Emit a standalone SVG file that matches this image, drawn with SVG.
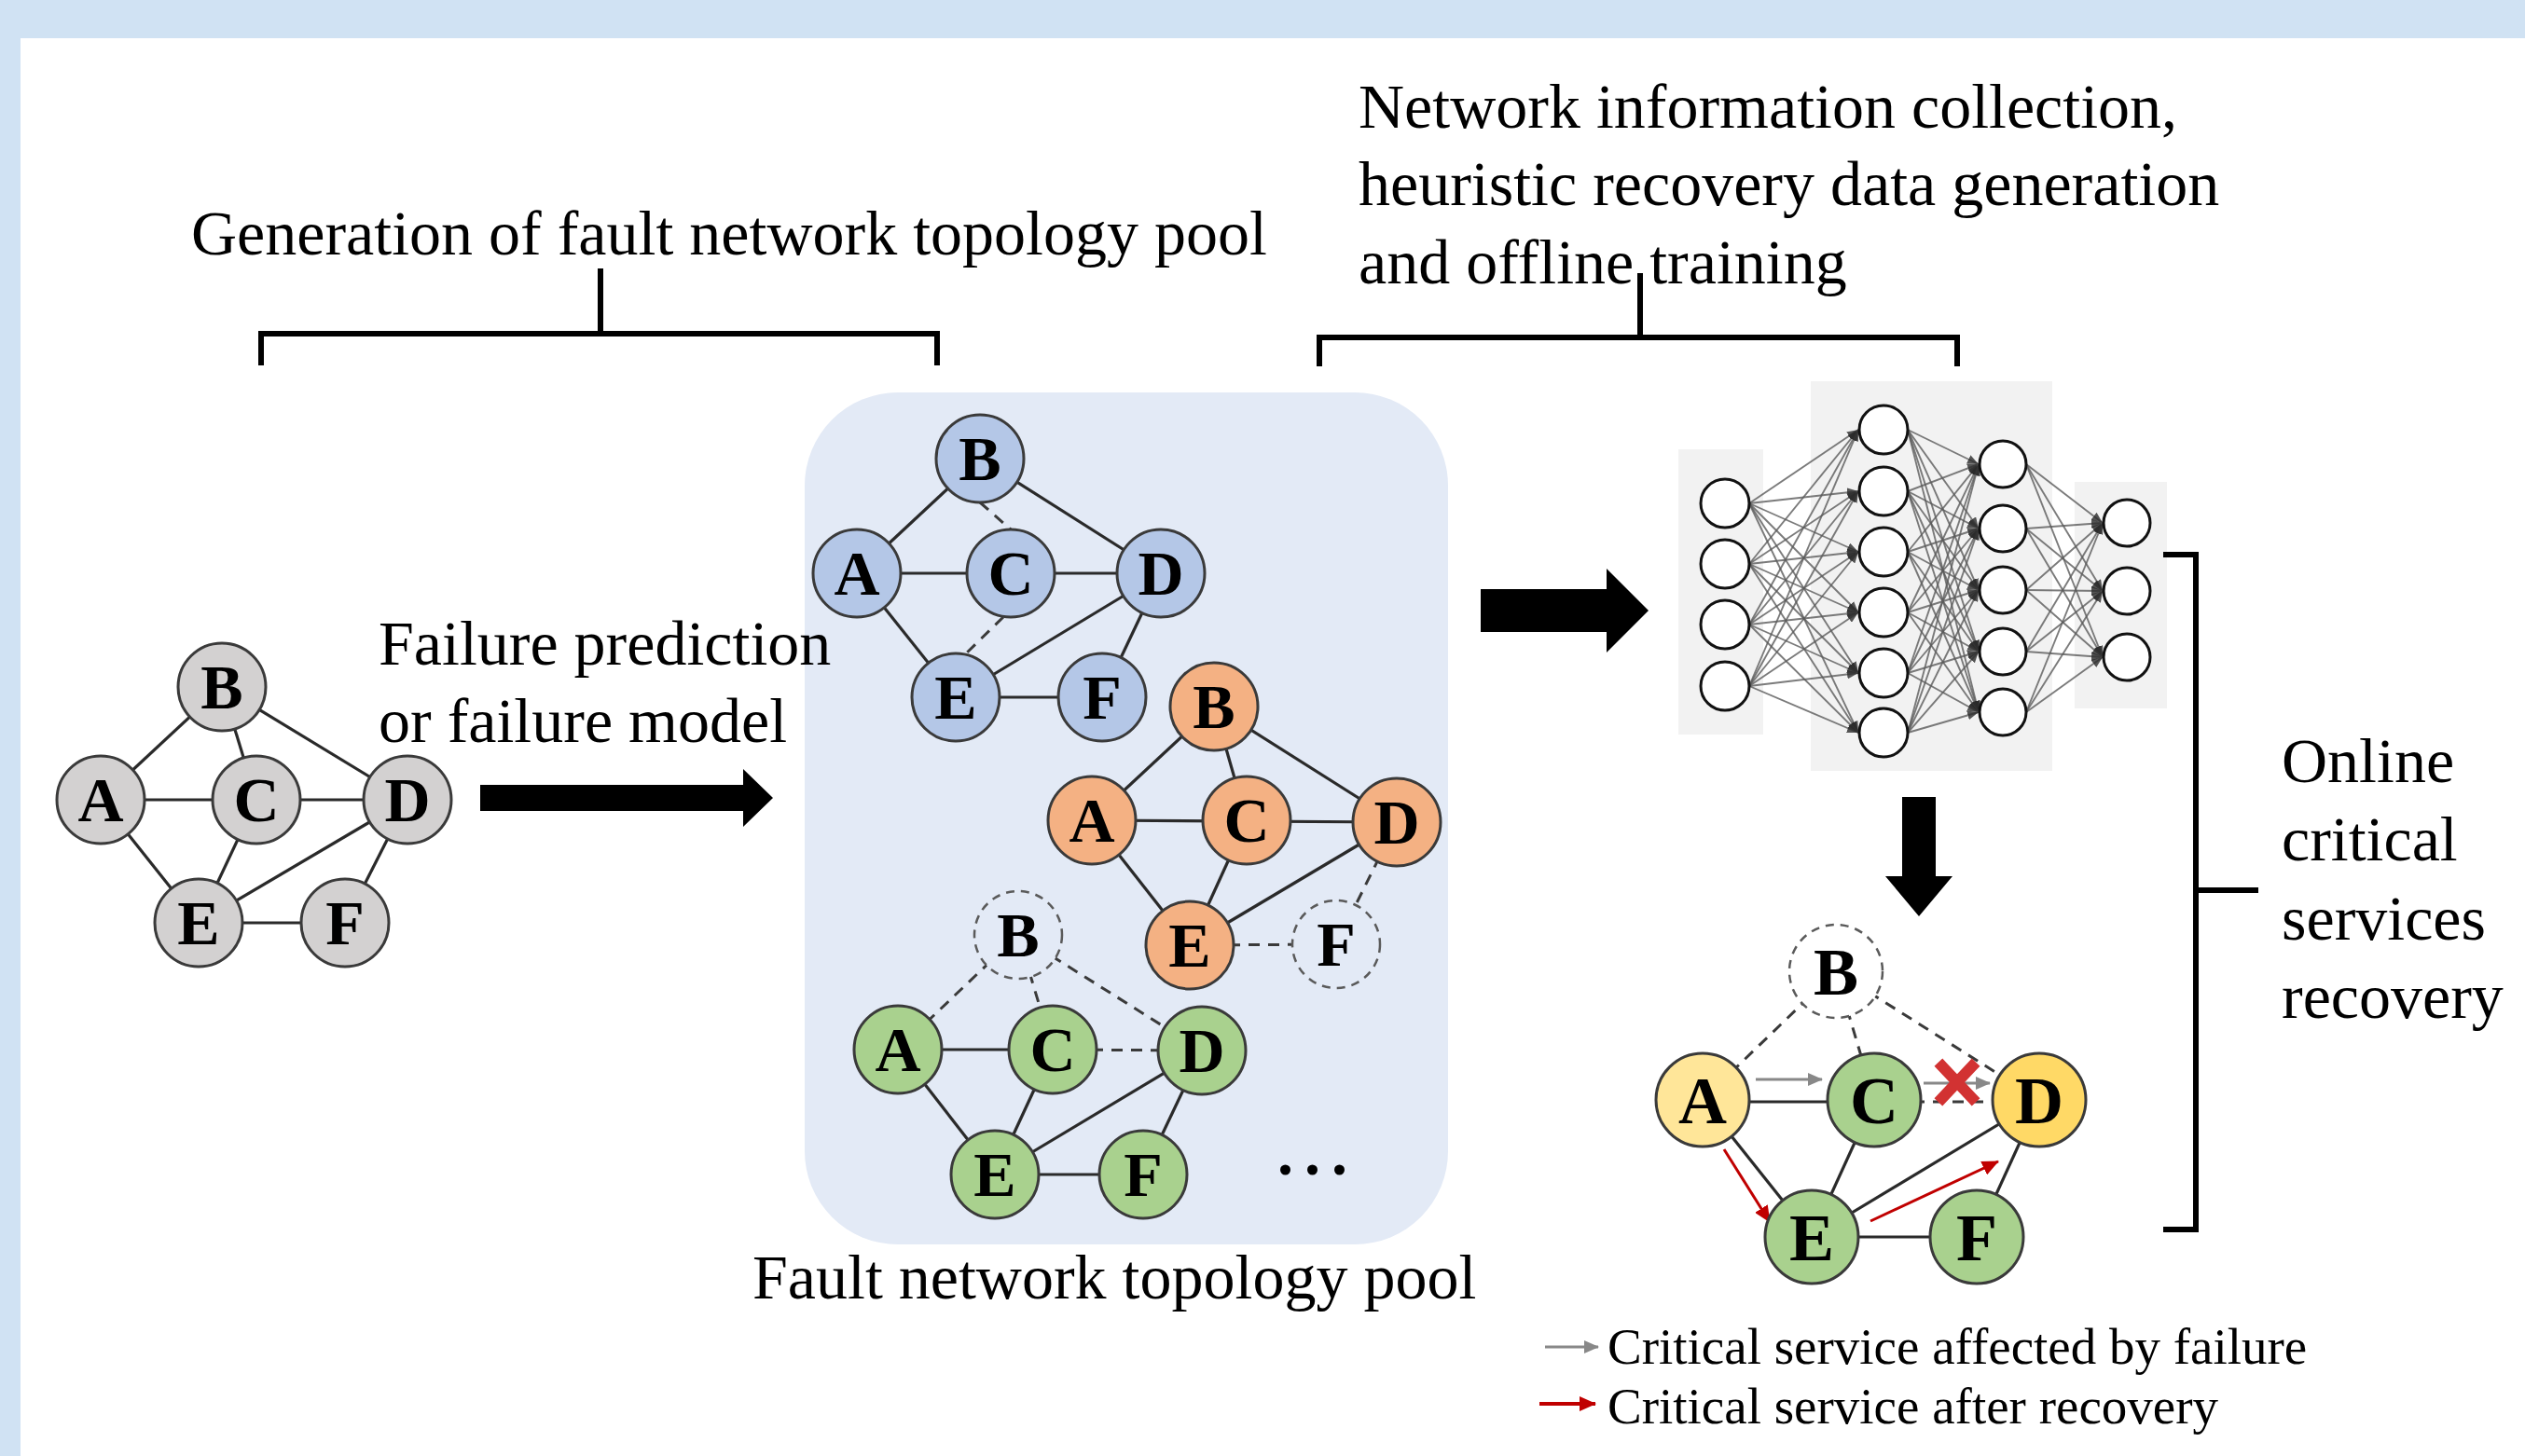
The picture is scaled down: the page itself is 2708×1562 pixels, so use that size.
<svg xmlns="http://www.w3.org/2000/svg" width="2708" height="1562" viewBox="0 0 2708 1562">
<style>
.t{font-family:"Liberation Serif","Times New Roman",serif;font-size:68px;fill:#000}
.lg{font-family:"Liberation Serif","Times New Roman",serif;font-size:55px;fill:#000}
.lbl{font-family:"Liberation Serif","Times New Roman",serif;font-size:68px;font-weight:bold;text-anchor:middle;fill:#000}
.lbl2{font-family:"Liberation Serif","Times New Roman",serif;font-size:72px;font-weight:bold;text-anchor:middle;fill:#000}
.nd{stroke:#3a3a3a;stroke-width:3}
.grey{fill:#d3d1d1}.blue{fill:#b4c7e7}.orange{fill:#f4b183}.green{fill:#a9d18e}.yel{fill:#ffe699}.gold{fill:#ffd966}
.dnode{stroke:#5a5a5a;stroke-width:2.5;stroke-dasharray:9 7}
.e{stroke:#2a2a2a;stroke-width:3.2;fill:none}
.ed{stroke:#3a3a3a;stroke-width:3;fill:none;stroke-dasharray:12 9}
.br{stroke:#000;stroke-width:6;fill:none}
.nn line{stroke:#5a5a5a;stroke-width:1.9;stroke-opacity:0.8}
.neu{fill:#fff;stroke:#111;stroke-width:3}
</style>
<defs>
<marker id="nnA" markerUnits="userSpaceOnUse" markerWidth="12" markerHeight="10" refX="12" refY="5" orient="auto"><path d="M0,0 L12,5 L0,10 z" fill="#2a2a2a" fill-opacity="0.8"/></marker>
<marker id="gA" markerUnits="userSpaceOnUse" markerWidth="16" markerHeight="14" refX="15" refY="7" orient="auto"><path d="M0,0 L16,7 L0,14 z" fill="#888"/></marker>
<marker id="rA" markerUnits="userSpaceOnUse" markerWidth="18" markerHeight="16" refX="17" refY="8" orient="auto"><path d="M0,0 L18,8 L0,16 z" fill="#c00000"/></marker>
</defs>

<rect x="0" y="0" width="2708" height="1562" fill="#d0e2f3"/>
<rect x="22" y="41" width="2686" height="1521" fill="#fff"/>

<g id="pool-bg"><rect x="863" y="421" width="690" height="914" rx="100" fill="#e3eaf6"/></g>

<g id="nn-panels" fill="#f2f2f2">
<rect x="1800" y="482" width="91" height="306"/>
<rect x="1942" y="409" width="259" height="418"/>
<rect x="2225" y="517" width="99" height="243"/>
</g>

<g id="headings">
<text class="t" x="205" y="273">Generation of fault network topology pool</text>
<text class="t" x="1457" y="137">Network information collection,</text>
<text class="t" x="1457" y="220">heuristic recovery data generation</text>
<text class="t" x="1457" y="304">and offline training</text>
<text class="t" x="406" y="713">Failure prediction</text>
<text class="t" x="406" y="796">or failure model</text>
<text class="t" x="807" y="1393">Fault network topology pool</text>
<text class="t" x="2447" y="839">Online</text>
<text class="t" x="2447" y="923">critical</text>
<text class="t" x="2447" y="1008">services</text>
<text class="t" x="2447" y="1092">recovery</text>
<text class="t" x="1370" y="1260" font-weight="bold" font-size="112" letter-spacing="12">...</text>
</g>

<g id="connectors">
<g id="brackets">
<path class="br" d="M280,392 V358 H1005 V392 M644,358 V288"/>
<path class="br" d="M1415,393 V362 H2099 V393 M1759,362 V293"/>
<path class="br" d="M2320,595 H2355 V1319 H2320 M2355,955 H2422"/>
</g>
<g id="big-arrows" fill="#000">
<polygon points="515,842 797,842 797,825 829,856 797,887 797,870 515,870"/>
<polygon points="1588,632 1723,632 1723,610 1768,655 1723,700 1723,678 1588,678"/>
<polygon points="2040,855 2076,855 2076,940 2094,940 2058,983 2022,940 2040,940"/>
</g>
<g id="edges-grey">
<line class="e" x1="108" y1="858" x2="238" y2="737"/>
<line class="e" x1="238" y1="737" x2="275" y2="858"/>
<line class="e" x1="238" y1="737" x2="437" y2="858"/>
<line class="e" x1="108" y1="858" x2="437" y2="858"/>
<line class="e" x1="108" y1="858" x2="213" y2="990"/>
<line class="e" x1="275" y1="858" x2="213" y2="990"/>
<line class="e" x1="437" y1="858" x2="213" y2="990"/>
<line class="e" x1="437" y1="858" x2="370" y2="990"/>
<line class="e" x1="213" y1="990" x2="370" y2="990"/>
</g>
<g id="edges-blue">
<line class="e" x1="919" y1="615" x2="1051" y2="492"/>
<line class="ed" x1="1051" y1="539" x2="1084" y2="568"/>
<line class="e" x1="1051" y1="492" x2="1245" y2="615"/>
<line class="e" x1="919" y1="615" x2="1245" y2="615"/>
<line class="e" x1="919" y1="615" x2="1025" y2="748"/>
<line class="ed" x1="1076" y1="662" x2="1035" y2="702"/>
<line class="e" x1="1245" y1="615" x2="1025" y2="748"/>
<line class="e" x1="1245" y1="615" x2="1182" y2="748"/>
<line class="e" x1="1025" y1="748" x2="1182" y2="748"/>
</g>
<g id="edges-orange">
<line class="e" x1="1171" y1="880" x2="1302" y2="758"/>
<line class="e" x1="1302" y1="758" x2="1337" y2="880"/>
<line class="e" x1="1302" y1="758" x2="1498" y2="882"/>
<line class="e" x1="1171" y1="880" x2="1498" y2="882"/>
<line class="e" x1="1171" y1="880" x2="1276" y2="1014"/>
<line class="e" x1="1337" y1="880" x2="1276" y2="1014"/>
<line class="e" x1="1498" y1="882" x2="1276" y2="1014"/>
<line class="ed" x1="1498" y1="882" x2="1433" y2="1013"/>
<line class="ed" x1="1276" y1="1014" x2="1433" y2="1013"/>
</g>
<g id="edges-green">
<line class="ed" x1="963" y1="1126" x2="1092" y2="1003"/>
<line class="ed" x1="1092" y1="1003" x2="1129" y2="1126"/>
<line class="ed" x1="1092" y1="1003" x2="1289" y2="1127"/>
<line class="e" x1="963" y1="1126" x2="1129" y2="1126"/>
<line class="ed" x1="1129" y1="1126" x2="1289" y2="1127"/>
<line class="e" x1="963" y1="1126" x2="1067" y2="1260"/>
<line class="e" x1="1129" y1="1126" x2="1067" y2="1260"/>
<line class="e" x1="1289" y1="1127" x2="1067" y2="1260"/>
<line class="e" x1="1289" y1="1127" x2="1226" y2="1260"/>
<line class="e" x1="1067" y1="1260" x2="1226" y2="1260"/>
</g>
<g id="edges-recovery">
<line class="ed" x1="1826" y1="1180" x2="1969" y2="1042"/>
<line class="ed" x1="1969" y1="1042" x2="2010" y2="1180"/>
<line class="ed" x1="1969" y1="1042" x2="2187" y2="1180"/>
<line class="e" x1="1826" y1="1182" x2="2010" y2="1182"/>
<line class="ed" x1="2010" y1="1182" x2="2187" y2="1182"/>
<line class="e" x1="1826" y1="1180" x2="1943" y2="1327"/>
<line class="e" x1="2010" y1="1180" x2="1943" y2="1327"/>
<line class="e" x1="2187" y1="1180" x2="1943" y2="1327"/>
<line class="e" x1="2187" y1="1180" x2="2120" y2="1327"/>
<line class="e" x1="1943" y1="1327" x2="2120" y2="1327"/>
<line x1="1883" y1="1158" x2="1954" y2="1158" stroke="#888" stroke-width="3" marker-end="url(#gA)"/>
<line x1="2063" y1="1162" x2="2134" y2="1162" stroke="#888" stroke-width="3" marker-end="url(#gA)"/>
<line x1="1849" y1="1233" x2="1898" y2="1311" stroke="#c00000" stroke-width="3" marker-end="url(#rA)"/>
<line x1="2006" y1="1310" x2="2143" y2="1246" stroke="#c00000" stroke-width="3" marker-end="url(#rA)"/>
<path d="M2083,1144 L2115,1178 M2115,1144 L2083,1178" stroke="#d23232" stroke-width="12" stroke-linecap="square"/>
</g>
<g id="legend-arrows">
<line x1="1657" y1="1445" x2="1714" y2="1445" stroke="#888" stroke-width="3" marker-end="url(#gA)"/>
<line x1="1651" y1="1506" x2="1711" y2="1506" stroke="#c00000" stroke-width="4" marker-end="url(#rA)"/>
</g>
<g id="nn-edges" class="nn">
<line x1="1876" y1="540" x2="1993" y2="461" marker-end="url(#nnA)"/><line x1="1876" y1="540" x2="1993" y2="527" marker-end="url(#nnA)"/><line x1="1876" y1="540" x2="1993" y2="592" marker-end="url(#nnA)"/><line x1="1876" y1="540" x2="1993" y2="657" marker-end="url(#nnA)"/><line x1="1876" y1="540" x2="1993" y2="722" marker-end="url(#nnA)"/><line x1="1876" y1="540" x2="1993" y2="786" marker-end="url(#nnA)"/>
<line x1="1876" y1="605" x2="1993" y2="461" marker-end="url(#nnA)"/><line x1="1876" y1="605" x2="1993" y2="527" marker-end="url(#nnA)"/><line x1="1876" y1="605" x2="1993" y2="592" marker-end="url(#nnA)"/><line x1="1876" y1="605" x2="1993" y2="657" marker-end="url(#nnA)"/><line x1="1876" y1="605" x2="1993" y2="722" marker-end="url(#nnA)"/><line x1="1876" y1="605" x2="1993" y2="786" marker-end="url(#nnA)"/>
<line x1="1876" y1="670" x2="1993" y2="461" marker-end="url(#nnA)"/><line x1="1876" y1="670" x2="1993" y2="527" marker-end="url(#nnA)"/><line x1="1876" y1="670" x2="1993" y2="592" marker-end="url(#nnA)"/><line x1="1876" y1="670" x2="1993" y2="657" marker-end="url(#nnA)"/><line x1="1876" y1="670" x2="1993" y2="722" marker-end="url(#nnA)"/><line x1="1876" y1="670" x2="1993" y2="786" marker-end="url(#nnA)"/>
<line x1="1876" y1="736" x2="1993" y2="461" marker-end="url(#nnA)"/><line x1="1876" y1="736" x2="1993" y2="527" marker-end="url(#nnA)"/><line x1="1876" y1="736" x2="1993" y2="592" marker-end="url(#nnA)"/><line x1="1876" y1="736" x2="1993" y2="657" marker-end="url(#nnA)"/><line x1="1876" y1="736" x2="1993" y2="722" marker-end="url(#nnA)"/><line x1="1876" y1="736" x2="1993" y2="786" marker-end="url(#nnA)"/>
<line x1="2046" y1="461" x2="2122" y2="498" marker-end="url(#nnA)"/><line x1="2046" y1="461" x2="2122" y2="567" marker-end="url(#nnA)"/><line x1="2046" y1="461" x2="2122" y2="633" marker-end="url(#nnA)"/><line x1="2046" y1="461" x2="2122" y2="699" marker-end="url(#nnA)"/><line x1="2046" y1="461" x2="2122" y2="764" marker-end="url(#nnA)"/>
<line x1="2046" y1="527" x2="2122" y2="498" marker-end="url(#nnA)"/><line x1="2046" y1="527" x2="2122" y2="567" marker-end="url(#nnA)"/><line x1="2046" y1="527" x2="2122" y2="633" marker-end="url(#nnA)"/><line x1="2046" y1="527" x2="2122" y2="699" marker-end="url(#nnA)"/><line x1="2046" y1="527" x2="2122" y2="764" marker-end="url(#nnA)"/>
<line x1="2046" y1="592" x2="2122" y2="498" marker-end="url(#nnA)"/><line x1="2046" y1="592" x2="2122" y2="567" marker-end="url(#nnA)"/><line x1="2046" y1="592" x2="2122" y2="633" marker-end="url(#nnA)"/><line x1="2046" y1="592" x2="2122" y2="699" marker-end="url(#nnA)"/><line x1="2046" y1="592" x2="2122" y2="764" marker-end="url(#nnA)"/>
<line x1="2046" y1="657" x2="2122" y2="498" marker-end="url(#nnA)"/><line x1="2046" y1="657" x2="2122" y2="567" marker-end="url(#nnA)"/><line x1="2046" y1="657" x2="2122" y2="633" marker-end="url(#nnA)"/><line x1="2046" y1="657" x2="2122" y2="699" marker-end="url(#nnA)"/><line x1="2046" y1="657" x2="2122" y2="764" marker-end="url(#nnA)"/>
<line x1="2046" y1="722" x2="2122" y2="498" marker-end="url(#nnA)"/><line x1="2046" y1="722" x2="2122" y2="567" marker-end="url(#nnA)"/><line x1="2046" y1="722" x2="2122" y2="633" marker-end="url(#nnA)"/><line x1="2046" y1="722" x2="2122" y2="699" marker-end="url(#nnA)"/><line x1="2046" y1="722" x2="2122" y2="764" marker-end="url(#nnA)"/>
<line x1="2046" y1="786" x2="2122" y2="498" marker-end="url(#nnA)"/><line x1="2046" y1="786" x2="2122" y2="567" marker-end="url(#nnA)"/><line x1="2046" y1="786" x2="2122" y2="633" marker-end="url(#nnA)"/><line x1="2046" y1="786" x2="2122" y2="699" marker-end="url(#nnA)"/><line x1="2046" y1="786" x2="2122" y2="764" marker-end="url(#nnA)"/>
<line x1="2173" y1="498" x2="2255" y2="561" marker-end="url(#nnA)"/><line x1="2173" y1="498" x2="2255" y2="634" marker-end="url(#nnA)"/><line x1="2173" y1="498" x2="2255" y2="705" marker-end="url(#nnA)"/>
<line x1="2173" y1="567" x2="2255" y2="561" marker-end="url(#nnA)"/><line x1="2173" y1="567" x2="2255" y2="634" marker-end="url(#nnA)"/><line x1="2173" y1="567" x2="2255" y2="705" marker-end="url(#nnA)"/>
<line x1="2173" y1="633" x2="2255" y2="561" marker-end="url(#nnA)"/><line x1="2173" y1="633" x2="2255" y2="634" marker-end="url(#nnA)"/><line x1="2173" y1="633" x2="2255" y2="705" marker-end="url(#nnA)"/>
<line x1="2173" y1="699" x2="2255" y2="561" marker-end="url(#nnA)"/><line x1="2173" y1="699" x2="2255" y2="634" marker-end="url(#nnA)"/><line x1="2173" y1="699" x2="2255" y2="705" marker-end="url(#nnA)"/>
<line x1="2173" y1="764" x2="2255" y2="561" marker-end="url(#nnA)"/><line x1="2173" y1="764" x2="2255" y2="634" marker-end="url(#nnA)"/><line x1="2173" y1="764" x2="2255" y2="705" marker-end="url(#nnA)"/>
</g>
</g>

<g id="graph-grey">
<g id="g-A"><circle class="nd grey" cx="108" cy="858" r="47"/><text class="lbl" x="108" y="881">A</text></g>
<g id="g-B"><circle class="nd grey" cx="238" cy="737" r="47"/><text class="lbl" x="238" y="760">B</text></g>
<g id="g-C"><circle class="nd grey" cx="275" cy="858" r="47"/><text class="lbl" x="275" y="881">C</text></g>
<g id="g-D"><circle class="nd grey" cx="437" cy="858" r="47"/><text class="lbl" x="437" y="881">D</text></g>
<g id="g-E"><circle class="nd grey" cx="213" cy="990" r="47"/><text class="lbl" x="213" y="1013">E</text></g>
<g id="g-F"><circle class="nd grey" cx="370" cy="990" r="47"/><text class="lbl" x="370" y="1013">F</text></g>
</g>

<g id="graph-blue">
<g id="b-A"><circle class="nd blue" cx="919" cy="615" r="47"/><text class="lbl" x="919" y="638">A</text></g>
<g id="b-B"><circle class="nd blue" cx="1051" cy="492" r="47"/><text class="lbl" x="1051" y="515">B</text></g>
<g id="b-C"><circle class="nd blue" cx="1084" cy="615" r="47"/><text class="lbl" x="1084" y="638">C</text></g>
<g id="b-D"><circle class="nd blue" cx="1245" cy="615" r="47"/><text class="lbl" x="1245" y="638">D</text></g>
<g id="b-E"><circle class="nd blue" cx="1025" cy="748" r="47"/><text class="lbl" x="1025" y="771">E</text></g>
<g id="b-F"><circle class="nd blue" cx="1182" cy="748" r="47"/><text class="lbl" x="1182" y="771">F</text></g>
</g>

<g id="graph-orange">
<g id="o-A"><circle class="nd orange" cx="1171" cy="880" r="47"/><text class="lbl" x="1171" y="903">A</text></g>
<g id="o-B"><circle class="nd orange" cx="1302" cy="758" r="47"/><text class="lbl" x="1302" y="781">B</text></g>
<g id="o-C"><circle class="nd orange" cx="1337" cy="880" r="47"/><text class="lbl" x="1337" y="903">C</text></g>
<g id="o-D"><circle class="nd orange" cx="1498" cy="882" r="47"/><text class="lbl" x="1498" y="905">D</text></g>
<g id="o-E"><circle class="nd orange" cx="1276" cy="1014" r="47"/><text class="lbl" x="1276" y="1037">E</text></g>
<g id="o-F"><circle class="dnode" fill="#e3eaf6" cx="1433" cy="1013" r="47"/><text class="lbl" x="1433" y="1036">F</text></g>
</g>

<g id="graph-green">
<g id="gr-A"><circle class="nd green" cx="963" cy="1126" r="47"/><text class="lbl" x="963" y="1149">A</text></g>
<g id="gr-B"><circle class="dnode" fill="#e3eaf6" cx="1092" cy="1003" r="47"/><text class="lbl" x="1092" y="1026">B</text></g>
<g id="gr-C"><circle class="nd green" cx="1129" cy="1126" r="47"/><text class="lbl" x="1129" y="1149">C</text></g>
<g id="gr-D"><circle class="nd green" cx="1289" cy="1127" r="47"/><text class="lbl" x="1289" y="1150">D</text></g>
<g id="gr-E"><circle class="nd green" cx="1067" cy="1260" r="47"/><text class="lbl" x="1067" y="1283">E</text></g>
<g id="gr-F"><circle class="nd green" cx="1226" cy="1260" r="47"/><text class="lbl" x="1226" y="1283">F</text></g>
</g>

<g id="neural-net">
<circle class="neu" cx="1850" cy="540" r="26"/><circle class="neu" cx="1850" cy="605" r="26"/><circle class="neu" cx="1850" cy="670" r="26"/><circle class="neu" cx="1850" cy="736" r="26"/>
<circle class="neu" cx="2020" cy="461" r="26"/><circle class="neu" cx="2020" cy="527" r="26"/><circle class="neu" cx="2020" cy="592" r="26"/><circle class="neu" cx="2020" cy="657" r="26"/><circle class="neu" cx="2020" cy="722" r="26"/><circle class="neu" cx="2020" cy="786" r="26"/>
<circle class="neu" cx="2148" cy="498" r="25"/><circle class="neu" cx="2148" cy="567" r="25"/><circle class="neu" cx="2148" cy="633" r="25"/><circle class="neu" cx="2148" cy="699" r="25"/><circle class="neu" cx="2148" cy="764" r="25"/>
<circle class="neu" cx="2281" cy="561" r="25"/><circle class="neu" cx="2281" cy="634" r="25"/><circle class="neu" cx="2281" cy="705" r="25"/>
</g>

<g id="graph-recovery">
<g id="r-A"><circle class="nd yel" cx="1826" cy="1180" r="50"/><text class="lbl2" x="1826" y="1205">A</text></g>
<g id="r-B"><circle class="dnode" fill="#fff" cx="1969" cy="1042" r="50"/><text class="lbl2" x="1969" y="1067">B</text></g>
<g id="r-C"><circle class="nd green" cx="2010" cy="1180" r="50"/><text class="lbl2" x="2010" y="1205">C</text></g>
<g id="r-D"><circle class="nd gold" cx="2187" cy="1180" r="50"/><text class="lbl2" x="2187" y="1205">D</text></g>
<g id="r-E"><circle class="nd green" cx="1943" cy="1327" r="50"/><text class="lbl2" x="1943" y="1352">E</text></g>
<g id="r-F"><circle class="nd green" cx="2120" cy="1327" r="50"/><text class="lbl2" x="2120" y="1352">F</text></g>
</g>

<g id="legend">
<text class="lg" x="1724" y="1463">Critical service affected by failure</text>
<text class="lg" x="1724" y="1527">Critical service after recovery</text>
</g>
</svg>
